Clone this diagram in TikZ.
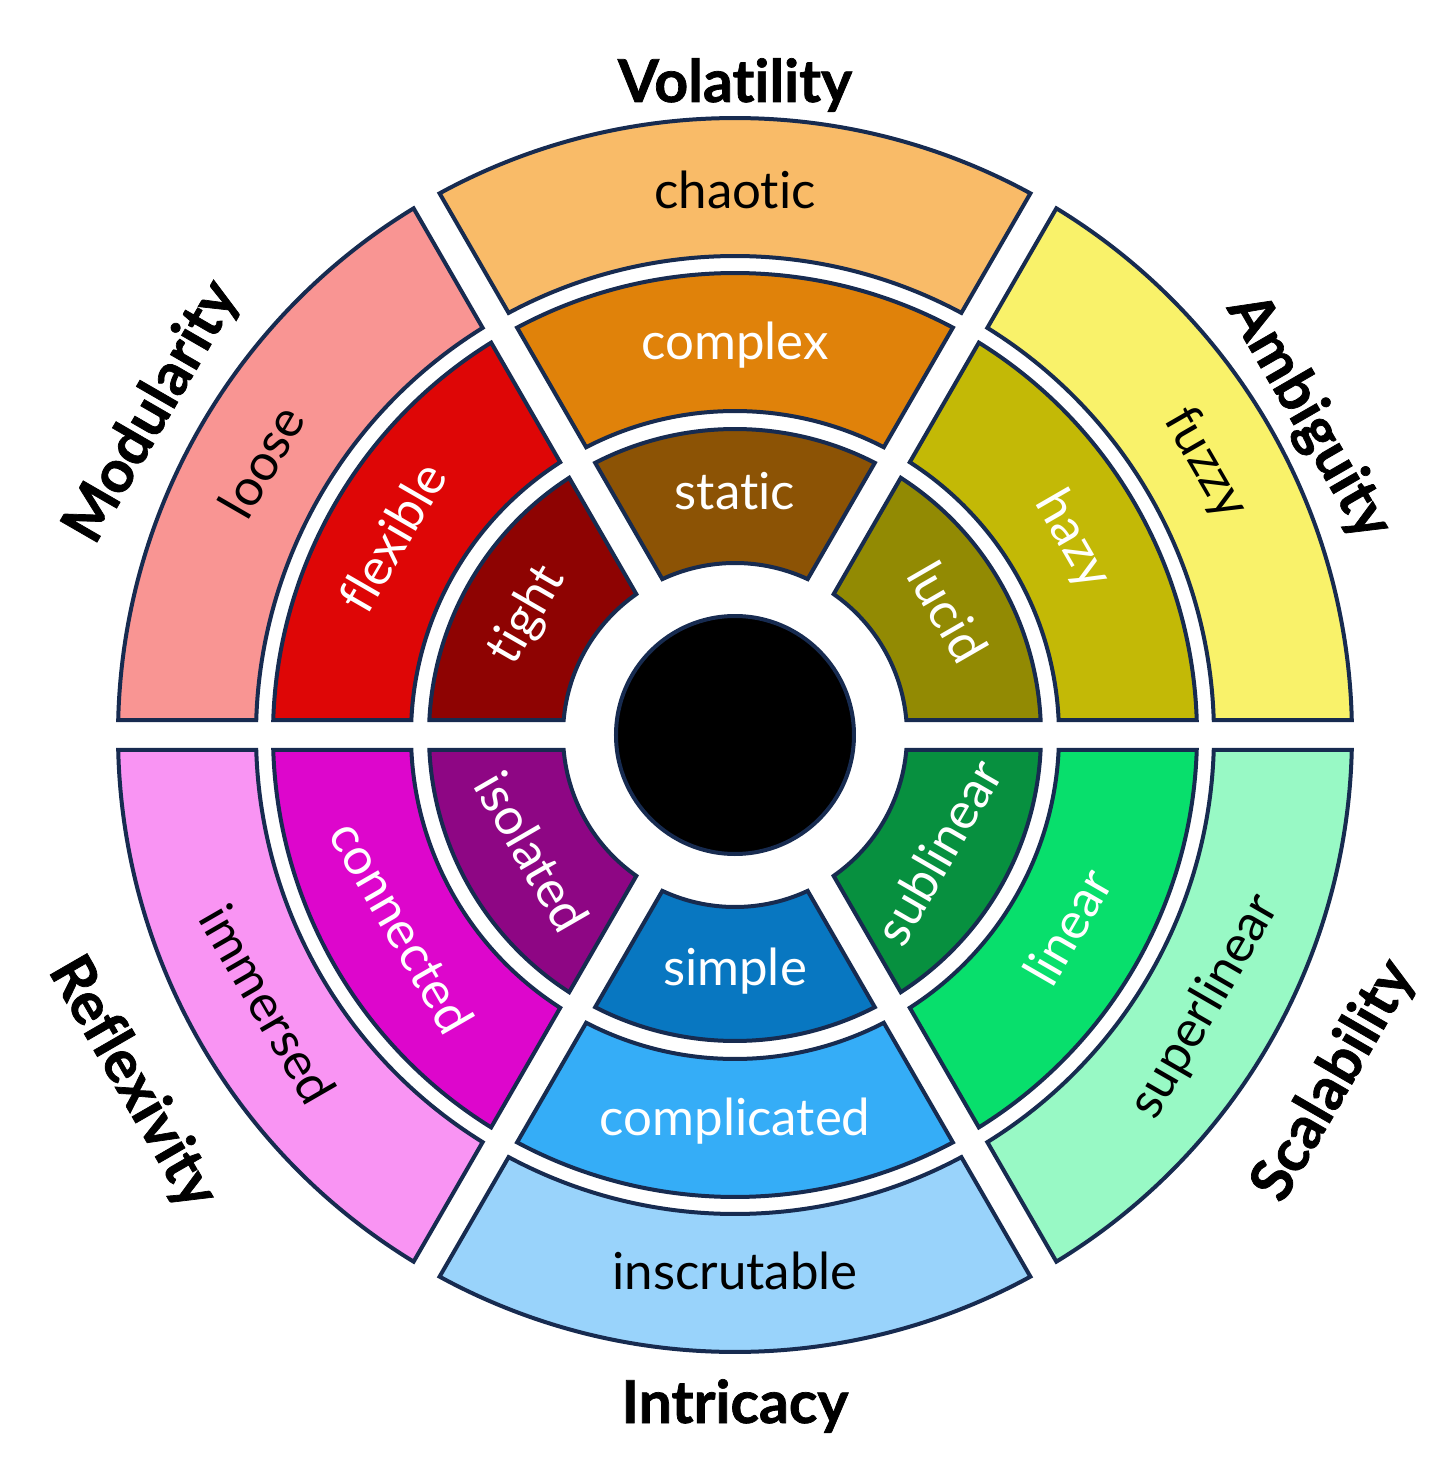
\documentclass[tikz,border=0pt]{standalone}
\usepackage{fontspec}
\setmainfont{Lato}[Ligatures=NoCommon,BoldFeatures={FakeBold=1.2}]

\definecolor{rim}{HTML}{172B50}
\definecolor{vol1}{HTML}{8C5305}
\definecolor{vol2}{HTML}{E0820A}
\definecolor{vol3}{HTML}{F9BB68}
\definecolor{amb1}{HTML}{928A03}
\definecolor{amb2}{HTML}{C3B906}
\definecolor{amb3}{HTML}{F9F26A}
\definecolor{sca1}{HTML}{07903F}
\definecolor{sca2}{HTML}{08DF6C}
\definecolor{sca3}{HTML}{98F9C5}
\definecolor{int1}{HTML}{0877C1}
\definecolor{int2}{HTML}{35ADF7}
\definecolor{int3}{HTML}{99D3FB}
\definecolor{ref1}{HTML}{8E0684}
\definecolor{ref2}{HTML}{DD06CC}
\definecolor{ref3}{HTML}{F994F3}
\definecolor{mod1}{HTML}{8E0302}
\definecolor{mod2}{HTML}{DE0606}
\definecolor{mod3}{HTML}{F99593}

\begin{document}
\begin{tikzpicture}[x=1pt,y=1pt,
    seg/.style={draw=rim,line width=4pt},
    lbl/.style={font=\fontsize{51}{60}\selectfont,inner sep=0pt,text height=25pt,text depth=0pt},
    heading/.style={font=\fontsize{59}{68}\selectfont\bfseries,inner sep=0pt,text height=42pt,text depth=0pt}]
    \useasboundingbox (-735,-741) rectangle (721,735);
    \def\gap{15}
    % ring segments, inner (1) to outer (3)
    \foreach \s/\a in {amb/0,vol/60,mod/120,ref/180,int/240,sca/300}{
        \foreach \k/\ri/\ro in {1/172/306,2/324/462,3/479/617}{
            \pgfmathsetmacro\pa{\a+asin(\gap/\ri)}
            \pgfmathsetmacro\pb{\a+asin(\gap/\ro)}
            \pgfmathsetmacro\pc{\a+60-asin(\gap/\ro)}
            \pgfmathsetmacro\pd{\a+60-asin(\gap/\ri)}
            \draw[seg,fill=\s\k] (\pa:\ri pt) -- (\pb:\ro pt)
                arc[start angle=\pb,end angle=\pc,radius=\ro pt] -- (\pd:\ri pt)
                arc[start angle=\pd,end angle=\pa,radius=\ri pt] -- cycle;
        }
    }
    \node[circle,fill=black,draw=rim,line width=4pt,inner sep=0pt,minimum size=238pt] (core) at (0,0) {};
    % segment labels
    \foreach \txt/\ang/\r/\rot/\tc in {lucid/30/240/-60/white,hazy/30/388/-60/white,fuzzy/30/541/-60/black,
        static/90/238/0/white,complex/90/388/0/white,chaotic/90/539/0/black,
        tight/150/238/60/white,flexible/150/390/60/white,loose/150/541/60/black,
        isolated/210/240/-60/white,connected/210/390/-60/white,immersed/210/545/-60/black,
        simple/270/238/0/white,complicated/270/388/0/white,inscrutable/270/542/0/black,
        sublinear/330/240/60/white,linear/330/390/60/white,superlinear/330/545/60/black}
        \node[lbl,text=\tc,rotate=\rot] (\txt) at (\ang:\r pt) {\txt};
    % headings
    \node[heading] (volatility) at (90:654pt) {Volatility};
    \node[heading,rotate=-60] (ambiguity) at (29:660pt) {Ambiguity};
    \node[heading,rotate=60] (scalability) at (-30:688pt) {Scalability};
    \node[heading] (intricacy) at (-90:667pt) {Intricacy};
    \node[heading,rotate=-60] (reflexivity) at (210:692pt) {Reflexivity};
    \node[heading,rotate=60] (modularity) at (151:670pt) {Modularity};
\end{tikzpicture}
\end{document}
